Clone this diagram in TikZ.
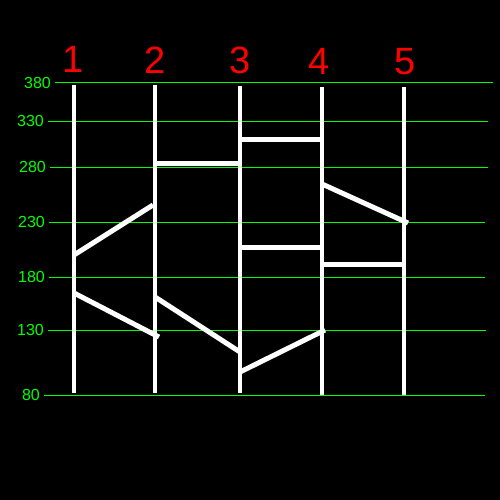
\documentclass[tikz,border=0pt]{standalone}
\usepackage{fontspec}
\setmainfont{Liberation Sans}
\usetikzlibrary{positioning}

\begin{document}
\begin{tikzpicture}[
    x=1pt, y=-1pt,
    gridline/.style = {draw=green, line width=1pt},
    tick/.style     = {text=green, inner sep=0pt,
                       font=\fontsize{16}{16}\selectfont},
    railnum/.style  = {text=red, inner sep=0pt,
                       font=\fontsize{38}{38}\selectfont},
    rail/.style     = {draw=white, line width=4pt},
    rung/.style     = {draw=white, line width=5pt}
]
\fill[black] (0,0) rectangle (500,500);
\useasboundingbox (0,0) rectangle (500,500);

% Value grid with labels
\foreach \val/\ypos/\xa/\xb in {380/83/55/493, 330/121/48/488, 280/167/50/488,
    230/222/49/485, 180/277/49/485, 130/330/48/486, 80/395/44/485}{
  \coordinate (g\val a) at (\xa,\ypos);
  \coordinate (g\val b) at (\xb,\ypos);
  \draw[gridline] (g\val a) -- (g\val b);
  \node[tick, left=4pt of g\val a] (lab\val) {\val};
}

% Rails with their numbers
\foreach \i/\xpos/\ytop/\ybot/\nx/\ny in {1/74/85/393/73/59, 2/155/85/393/155/60,
    3/240/86/393/240/60, 4/322/87/395/319/61, 5/404/87/395/405/62}{
  \node[railnum] (n\i) at (\nx,\ny) {\i};
  \coordinate (top\i) at (\xpos,\ytop);
  \coordinate (bot\i) at (\xpos,\ybot);
  \draw[rail] (top\i) -- (bot\i);
}

% Rungs between neighbouring rails
\foreach \xa/\ya/\xb/\yb [count=\k] in {74/255/153/205, 74/293/159/337,
    155/163/240/163, 155/297/240/352, 240/139/322/139, 240/247/322/247,
    240/372/325/330, 322/184/408/223, 322/264/404/264}{
  \coordinate (s\k) at (\xa,\ya);
  \coordinate (e\k) at (\xb,\yb);
  \draw[rung] (s\k) -- (e\k);
}
\end{tikzpicture}
\end{document}
